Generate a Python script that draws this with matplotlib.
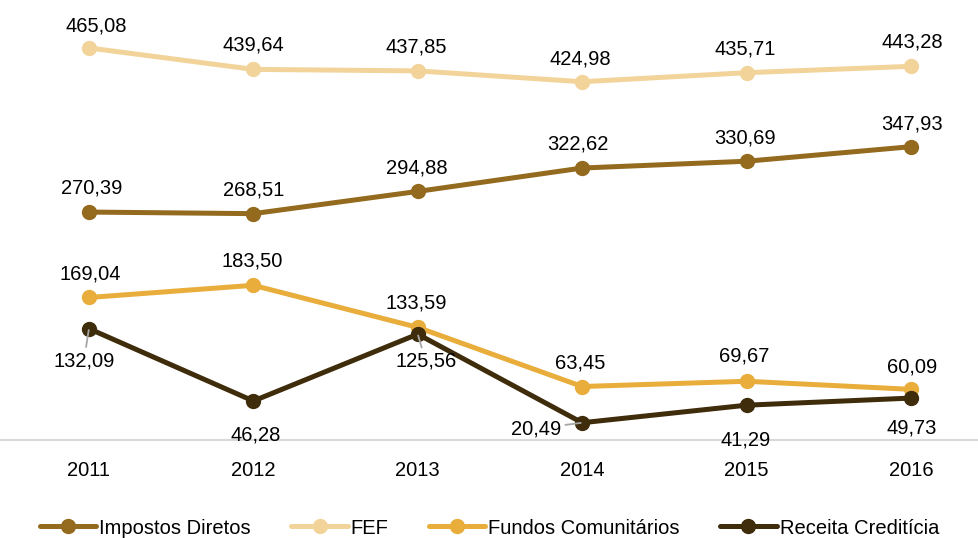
import matplotlib
matplotlib.use("Agg")
import matplotlib.pyplot as plt

plt.rcParams['font.family'] = ['Liberation Sans Narrow', 'Liberation Sans', 'DejaVu Sans']

years = ["2011", "2012", "2013", "2014", "2015", "2016"]
impostos = [270.39, 268.51, 294.88, 322.62, 330.69, 347.93]
fef = [465.08, 439.64, 437.85, 424.98, 435.71, 443.28]
fundos = [169.04, 183.50, 133.59, 63.45, 69.67, 60.09]
receita = [132.09, 46.28, 125.56, 20.49, 41.29, 49.73]

names = ["Impostos Diretos", "FEF", "Fundos Comunitários", "Receita Creditícia"]
colors = ["#936A1E", "#F2D49B", "#E8AD3B", "#3E2C0B"]

# label offsets in pixels (dx, dy), dy positive = up
offsets = [
    [(3, 24), (0, 24), (-1, 23), (-4, 24), (-2, 23), (1, 23)],
    [(7, 22), (0, 24), (-1, 24), (-2, 23), (-1, 24), (1, 24)],
    [(1, 23), (-1, 24), (-1, 24), (-2, 24), (-2, 25), (1, 22)],
    [(-5, -32), (2, -34), (8, -27), (-46, -6), (-1, -35), (1, -30)],
]
leaders = {(3, 0), (3, 2), (3, 3)}
fs = 14.5


def fmt(v):
    return "{:.2f}".format(v).replace(".", ",")


fig = plt.figure(figsize=(9.79, 5.38), dpi=100)
ax = fig.add_axes([0, 98 / 538, 1, (440 - 18.5) / 538])
x = list(range(len(years)))
series = [impostos, fef, fundos, receita]

for i, (vals, c, n) in enumerate(zip(series, colors, names)):
    ax.plot(x, vals, color=c, lw=3.6, marker="o", ms=10, label=n,
            solid_capstyle="round", zorder=3 + i * 0.1)
    for j, v in enumerate(vals):
        dx, dy = offsets[i][j]
        ap = None
        if (i, j) in leaders:
            ap = dict(arrowstyle="-", color="#A6A6A6", lw=1.3,
                      shrinkA=1, shrinkB=1)
        ax.annotate(fmt(v), (j, v), xytext=(dx * 0.72, dy * 0.72),
                    textcoords="offset points", ha="center", va="center",
                    fontsize=fs, color="#000000", arrowprops=ap, zorder=5)

ax.set_xlim(-0.541, 5.414)
ax.set_ylim(0, 500)
ax.set_yticks([])
ax.set_xticks(x)
ax.set_xticklabels(years, fontsize=fs)
ax.tick_params(axis="x", length=0, pad=15)
for s in ["top", "left", "right"]:
    ax.spines[s].set_visible(False)
ax.spines["bottom"].set_color("#D9D9D9")
ax.spines["bottom"].set_linewidth(1.5)

fig.legend(loc="center", bbox_to_anchor=(0.5, 10 / 538), ncol=4,
           frameon=False, fontsize=fs, handlelength=2.8,
           handletextpad=0.15, columnspacing=2.0, borderaxespad=0)

fig.savefig("out.png", dpi=100)
